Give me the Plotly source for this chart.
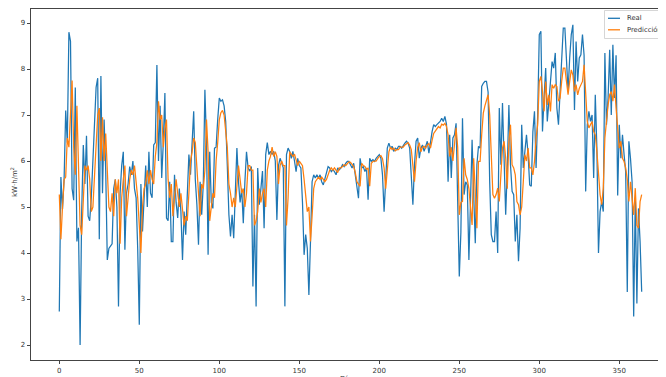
import plotly.graph_objects as go

real = [
    2.73, 5.65, 4.95, 5.6, 7.1, 6.4, 8.8, 8.6, 5.4, 5.15,
    7.6, 4.25, 4.55, 2.0, 4.9, 6.35, 5.5, 6.55, 4.8, 4.7,
    5.2, 6.1, 7.1, 7.6, 7.8, 4.3, 7.85, 5.3, 6.9, 5.8,
    3.85, 4.1, 4.15, 4.2, 5.4, 5.6, 5.0, 2.84, 5.3, 5.9,
    6.2, 4.07, 5.3, 5.5, 5.88, 5.7, 6.0, 5.4, 5.2, 4.1,
    2.44, 5.5, 4.47, 5.2, 5.9, 5.0, 6.2, 5.3, 5.2, 6.35,
    6.4, 8.09, 6.0, 7.2, 5.63, 6.4, 7.48, 4.76, 4.7, 5.55,
    4.25, 4.25, 5.7, 5.1, 4.76, 5.4, 4.9, 3.85, 4.9, 4.4,
    5.2, 6.14, 5.7, 6.3, 7.08, 5.6, 5.05, 4.18, 5.55, 4.83,
    5.5, 7.55, 6.4, 3.96, 6.2, 5.1, 4.97, 6.28, 6.3, 6.9,
    7.37, 7.3, 7.33, 7.2, 6.86, 5.9, 4.83, 4.36, 4.83, 4.32,
    5.4, 6.28, 5.55, 5.1, 5.4, 4.65, 5.55, 6.2, 5.85, 5.78,
    5.88, 3.27, 4.83, 2.84, 5.85, 5.05, 5.4, 5.78, 4.54, 6.14,
    6.4, 6.14, 6.21, 6.14, 6.21, 6.0, 4.72, 5.9, 6.06, 5.95,
    5.85, 2.84, 6.14, 6.28, 6.21, 6.06, 6.21, 6.0, 5.77, 6.06,
    5.9, 5.85, 5.1, 3.96, 4.4, 4.1, 3.09, 4.25, 5.55, 5.7,
    5.63, 5.7, 5.63, 5.7, 5.55, 5.48, 5.63, 5.77, 5.88, 5.85,
    5.77, 5.81, 5.77, 5.7, 5.85, 5.81, 5.85, 5.92, 5.88, 5.95,
    5.99, 5.99, 5.92, 5.85, 5.95, 5.7, 5.4, 5.19, 6.06, 5.85,
    5.88, 5.77, 5.85, 5.16, 6.06, 5.99, 6.03, 5.99, 6.06, 6.1,
    6.14, 6.06, 5.7, 4.9, 5.7, 6.28, 6.39, 6.28, 6.32, 6.21,
    6.28, 6.25, 6.32, 6.32, 6.28, 6.35, 6.39, 6.43, 6.39, 6.28,
    5.77, 5.05, 5.92, 6.43, 6.5, 6.06, 6.28, 6.35, 6.21, 6.35,
    6.43, 6.17, 6.43, 6.64, 6.79, 6.75, 6.79, 6.82, 6.86, 6.93,
    6.86, 6.97, 6.8, 5.55, 6.57, 5.63, 6.5, 6.57, 6.82, 5.12,
    3.49, 4.45, 6.93, 5.27, 5.55, 5.48, 3.85, 5.12, 6.46, 5.27,
    4.21, 5.92, 6.32, 6.28, 7.62, 7.69, 7.73, 7.73, 7.5, 5.55,
    4.4, 4.25, 4.25, 4.9, 4.0, 7.15, 5.92, 7.26, 5.7, 4.83,
    5.85, 7.22, 5.92, 5.34, 5.27, 4.25, 4.83, 3.82, 4.54, 6.79,
    5.85, 6.28, 6.57, 6.14, 5.48, 5.45, 6.64, 7.08, 5.85, 7.0,
    8.75, 8.82, 6.64, 7.37, 8.02, 6.86, 7.3, 7.73, 8.16, 8.02,
    8.35, 7.15, 6.79, 7.51, 8.38, 8.89, 8.89, 8.31, 7.51, 8.24,
    8.75, 8.96, 7.11, 8.6, 7.73, 8.24, 8.31, 8.75, 8.3, 5.34,
    6.79, 7.08, 6.86, 7.0, 5.63, 7.44, 6.28, 4.0, 4.9, 5.12,
    4.9, 8.35, 6.79, 7.37, 8.42, 7.0, 8.53, 7.37, 8.3, 5.25,
    6.79, 6.06, 6.57, 6.14, 5.77, 3.15, 6.43, 6.06, 5.55, 2.62,
    5.2, 2.9, 4.97, 4.25, 3.16,
]

prediccion = [
    5.27, 4.3, 5.0, 5.6, 5.65, 6.5, 6.3, 7.0, 7.75, 6.3,
    5.7, 7.2, 6.0, 4.6, 4.4, 5.2, 5.9, 5.8, 5.9, 5.6,
    4.9, 5.0, 5.7, 6.5, 7.0, 7.15, 6.0, 6.95, 6.0, 6.6,
    5.8, 5.0, 4.9, 5.3, 4.8, 5.6, 5.3, 5.6, 4.2, 5.2,
    5.6, 5.9, 4.8, 5.3, 5.6, 5.8, 5.7, 5.9, 5.5, 5.2,
    4.6, 4.0, 5.0, 5.4, 5.5, 5.8, 5.5, 5.8, 5.6, 5.5,
    6.1, 6.4, 7.3, 6.9, 7.0, 6.3, 6.7, 6.9, 5.6, 5.2,
    5.5, 4.8, 5.2, 5.6, 5.3, 5.0, 5.3, 5.0, 4.6, 4.8,
    4.7, 5.3, 6.0, 6.2, 6.5, 6.4, 5.7, 5.3, 4.8, 5.5,
    5.4, 5.8, 6.9, 6.2, 4.7, 5.0, 5.3, 5.2, 6.0, 6.4,
    6.9, 7.05, 7.1, 7.0, 6.6, 6.3, 5.5, 5.3, 5.0, 5.2,
    5.0, 5.5, 5.9, 5.6, 5.3, 5.4, 5.0, 5.3, 5.9, 5.9,
    5.8, 5.8, 4.6, 4.7, 4.9, 5.4, 5.1, 5.3, 5.4, 5.0,
    5.8, 6.0, 6.1, 6.3, 6.1, 6.2, 6.1, 5.5, 5.9, 6.0,
    5.9, 5.9, 4.6, 5.2, 6.2, 6.15, 6.1, 6.15, 6.0, 5.9,
    6.0, 5.95, 5.9, 5.6, 5.2, 4.9, 5.0, 4.25, 4.8, 5.4,
    5.55, 5.6, 5.65, 5.6, 5.65, 5.6, 5.55, 5.6, 5.7, 5.8,
    5.85, 5.8, 5.85, 5.8, 5.75, 5.85, 5.85, 5.88, 5.92, 5.9,
    5.95, 5.98, 5.97, 5.92, 5.88, 5.75, 5.55, 5.5, 5.45, 5.95,
    5.9, 5.88, 5.82, 5.85, 5.45, 5.95, 5.99, 6.0, 6.0, 6.05,
    6.1, 6.12, 6.05, 5.85, 5.4, 5.8, 6.2, 6.3, 6.25, 6.28,
    6.22, 6.25, 6.25, 6.3, 6.3, 6.3, 6.35, 6.38, 6.4, 6.35,
    6.25, 5.9, 5.55, 6.0, 6.3, 6.4, 6.2, 6.3, 6.32, 6.28,
    6.35, 6.38, 6.28, 6.45, 6.6, 6.65, 6.7, 6.75, 6.72, 6.8,
    6.78, 6.82, 6.75, 6.57, 6.1, 6.3, 6.0, 6.43, 6.72, 6.3,
    4.83, 5.1, 5.12, 6.06, 5.7, 5.6, 5.4, 5.0, 4.61, 6.06,
    5.2, 4.54, 5.99, 5.99, 6.57, 7.04, 7.2, 7.3, 7.44, 7.0,
    6.28, 5.27, 5.19, 5.27, 5.41, 5.12, 5.7, 6.28, 6.43, 6.06,
    5.4, 6.43, 6.79, 5.92, 5.85, 5.7, 5.12, 5.05, 4.83, 5.0,
    5.55, 6.14, 6.0, 6.28, 5.85, 5.85, 5.7, 5.99, 6.5, 6.79,
    7.73, 7.84, 7.51, 7.08, 7.73, 7.22, 7.44, 7.08, 7.66, 7.58,
    7.66, 7.62, 7.3, 7.37, 7.73, 8.02, 8.02, 7.73, 7.44, 7.73,
    7.98, 7.87, 7.51, 7.66, 7.44, 7.58, 7.66, 7.73, 8.09, 7.58,
    6.86, 6.72, 6.79, 6.86, 6.64, 6.57, 6.21, 5.77, 5.27, 5.05,
    5.41, 6.5, 6.93, 7.22, 7.44, 7.51, 7.3, 7.66, 7.15, 6.72,
    6.28, 6.43, 6.06, 5.99, 5.85, 5.6, 5.12, 5.55, 5.12, 4.83,
    5.41, 4.6, 4.54, 5.12, 5.27,
]

dias = list(range(len(real)))
x_ticks = [0, 50, 100, 150, 200, 250, 300, 350]
y_ticks = [2, 3, 4, 5, 6, 7, 8, 9]
series_names = ["Real", "Predicción"]
colors = ["#1f77b4", "#ff7f0e"]

# the page body has an 8px margin, so the figure is shifted by 8px
OFF = 8
W, H = 666 - OFF, 377 - OFF
ml, mr, mt, mb = 31 - OFF, 0, 9 - OFF, 17
pw, ph = W - ml - mr, H - mt - mb


def px(xw):
    return (xw - OFF - ml) / pw


def py(yw):
    return (H - mb - (yw - OFF)) / ph


fig = go.Figure()
for name, vals, c in zip(series_names, [real, prediccion], colors):
    fig.add_trace(go.Scatter(x=dias, y=vals, mode="lines", name=name,
                             line=dict(color=c, width=1.25), showlegend=False))

font = dict(family="DejaVu Sans", size=7, color="#333")

fig.update_layout(
    width=W, height=H,
    margin=dict(l=ml, r=mr, t=mt, b=mb),
    paper_bgcolor="white", plot_bgcolor="white",
    font=font,
    xaxis=dict(range=[-17.69, 379.2], tickvals=x_ticks, ticks="outside",
               ticklen=3.5, tickwidth=0.8, tickcolor="#444",
               showgrid=False, zeroline=False, showline=True, mirror=True,
               linecolor="#444", linewidth=0.8, tickfont=font),
    yaxis=dict(range=[1.674, 9.305], tickvals=y_ticks, ticks="outside",
               ticklen=3.5, tickwidth=0.8, tickcolor="#444",
               showgrid=False, zeroline=False, showline=True, mirror=False,
               linecolor="#444", linewidth=0.8, tickfont=font),
)

# legend drawn like matplotlib's
shapes = [dict(type="rect", xref="paper", yref="paper",
               x0=px(604.5), x1=px(672), y0=py(38.5), y1=py(10.5),
               line=dict(color="#cccccc", width=0.8), fillcolor="rgba(255,255,255,0.85)",
               layer="above")]
annotations = []
for i, (name, c) in enumerate(zip(series_names, colors)):
    yy = 18.3 + i * 11.5
    shapes.append(dict(type="line", xref="paper", yref="paper",
                       x0=px(608), x1=px(620), y0=py(yy), y1=py(yy),
                       line=dict(color=c, width=1.3), layer="above"))
    annotations.append(dict(xref="paper", yref="paper", x=px(624.5), y=py(yy),
                            text=name, showarrow=False, xanchor="left", yanchor="middle",
                            font=dict(family="DejaVu Sans", size=6.8, color="#333")))

annotations.append(dict(xref="paper", yref="paper", x=px(14), y=py(182),
                        text="kW·h/m<sup>2</sup>", textangle=-90, showarrow=False,
                        xanchor="center", yanchor="middle",
                        font=dict(family="DejaVu Sans", size=7, color="#333")))
annotations.append(dict(xref="paper", yref="paper", x=px(348), y=py(372.5),
                        text="Días", showarrow=False, xanchor="center", yanchor="top",
                        font=dict(family="DejaVu Sans", size=7, color="#333")))

fig.update_layout(shapes=shapes, annotations=annotations)

fig.write_html("out.html", config={"displayModeBar": False})
